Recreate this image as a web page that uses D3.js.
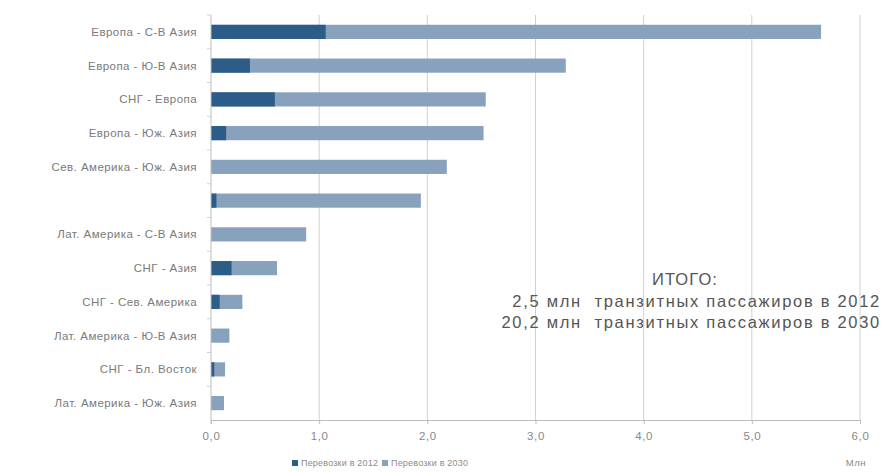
<!DOCTYPE html>
<html>
<head>
<meta charset="utf-8">
<script src="https://cdn.jsdelivr.net/npm/d3@7"></script>
<style>
  body { margin: 0; background: #fff; }
  text { font-family: "Liberation Sans", Arial, sans-serif; }
</style>
</head>
<body>
<div class="chart"></div>
<script>
var width = 885, height = 472;

var routes = ["Европа - С-В Азия", "Европа - Ю-В Азия", "СНГ - Европа", "Европа - Юж. Азия",
  "Сев. Америка - Юж. Азия", "", "Лат. Америка - С-В Азия", "СНГ - Азия", "СНГ - Сев. Америка",
  "Лат. Америка - Ю-В Азия", "СНГ - Бл. Восток", "Лат. Америка - Юж. Азия"];
var traffic2012 = [1.06, 0.36, 0.59, 0.14, 0.0, 0.05, 0.0, 0.19, 0.08, 0.0, 0.03, 0.0];
var traffic2030 = [5.64, 3.28, 2.54, 2.52, 2.18, 1.94, 0.88, 0.61, 0.29, 0.17, 0.13, 0.12];
var xTicks = [0, 1, 2, 3, 4, 5, 6];
var legendLabels = ["Перевозки в 2012", "Перевозки в 2030"];
var totalLines = ["ИТОГО:", "2,5 млн  транзитных пассажиров в 2012", "20,2 млн  транзитных пассажиров в 2030"];

var colors = ["#2c5c88", "#88a1bc"];

var svg = d3.select(".chart").append("svg")
  .attr("width", width)
  .attr("height", height);

var x = d3.scaleLinear().domain([0, 6]).range([211, 860]);
var y = d3.scaleBand().domain(d3.range(routes.length)).range([15, 420]).paddingInner(0.58).paddingOuter(0.29);

// vertical grid
svg.append("g")
  .selectAll("line")
  .data(xTicks.slice(1))
  .join("line")
  .attr("x1", d => x(d)).attr("x2", d => x(d))
  .attr("y1", 15).attr("y2", 420)
  .attr("stroke", "#d0d0d0");

// 2030 bars (full length), 2012 drawn on top
svg.append("g")
  .selectAll("rect")
  .data(traffic2030)
  .join("rect")
  .attr("x", x(0))
  .attr("y", (d, i) => y(i))
  .attr("width", d => x(d) - x(0))
  .attr("height", y.bandwidth())
  .attr("fill", colors[1]);

svg.append("g")
  .selectAll("rect")
  .data(traffic2012)
  .join("rect")
  .attr("x", x(0))
  .attr("y", (d, i) => y(i))
  .attr("width", d => x(d) - x(0))
  .attr("height", y.bandwidth())
  .attr("fill", colors[0]);

// left axis line + little ticks between categories
var step = y.step();
svg.append("line")
  .attr("x1", x(0)).attr("x2", x(0))
  .attr("y1", 15).attr("y2", 424)
  .attr("stroke", "#bdbdbd");
svg.append("g")
  .selectAll("line")
  .data(d3.range(routes.length))
  .join("line")
  .attr("x1", x(0) - 4).attr("x2", x(0))
  .attr("y1", i => y(i) - (step - y.bandwidth()) / 2)
  .attr("y2", i => y(i) - (step - y.bandwidth()) / 2)
  .attr("stroke", "#d0d0d0");

// bottom axis
var xAxis = svg.append("g")
  .attr("transform", "translate(0,420)")
  .call(d3.axisBottom(x).tickValues(xTicks).tickSize(4)
    .tickFormat(d => d3.format(".1f")(d).replace(".", ",")));
xAxis.select(".domain").attr("stroke", "#bdbdbd");
xAxis.selectAll(".tick line").attr("stroke", "#bdbdbd");
xAxis.selectAll("text")
  .attr("dy", "1.15em")
  .attr("fill", "#888")
  .style("font-size", "11.5px")
  .style("letter-spacing", "0.6px")
  .style("font-family", "Liberation Sans, Arial, sans-serif");

// category labels
svg.append("g")
  .selectAll("text")
  .data(routes)
  .join("text")
  .attr("x", 197)
  .attr("y", (d, i) => y(i) + y.bandwidth() / 2)
  .attr("dy", "0.35em")
  .attr("text-anchor", "end")
  .attr("fill", "#7a7a7a")
  .style("font-size", "11.5px")
  .style("letter-spacing", "0.45px")
  .text(d => d);

// legend
var legend = svg.append("g")
  .selectAll("g")
  .data(legendLabels)
  .join("g")
  .attr("transform", (d, i) => "translate(" + (292 + i * 90) + ",466)");
legend.append("rect")
  .attr("x", 0).attr("y", -6)
  .attr("width", 6).attr("height", 6)
  .attr("fill", (d, i) => colors[i]);
legend.append("text")
  .attr("x", 9).attr("y", 0)
  .attr("fill", "#8c8c8c")
  .style("font-size", "9px")
  .style("letter-spacing", "0.2px")
  .text(d => d);

svg.append("text")
  .attr("x", 866).attr("y", 466)
  .attr("text-anchor", "end")
  .attr("fill", "#888")
  .style("font-size", "9.5px")
  .style("letter-spacing", "0.5px")
  .text("Млн");

// totals note
svg.append("g")
  .selectAll("text")
  .data(totalLines)
  .join("text")
  .attr("x", (d, i) => i === 0 ? 685 : 881)
  .attr("y", (d, i) => 285 + i * 21.5)
  .attr("text-anchor", (d, i) => i === 0 ? "middle" : "end")
  .attr("fill", "#555")
  .style("font-size", "16.5px")
  .style("letter-spacing", (d, i) => i === 0 ? "1.1px" : "1.7px")
  .style("white-space", "pre")
  .text(d => d);
</script>
</body>
</html>
